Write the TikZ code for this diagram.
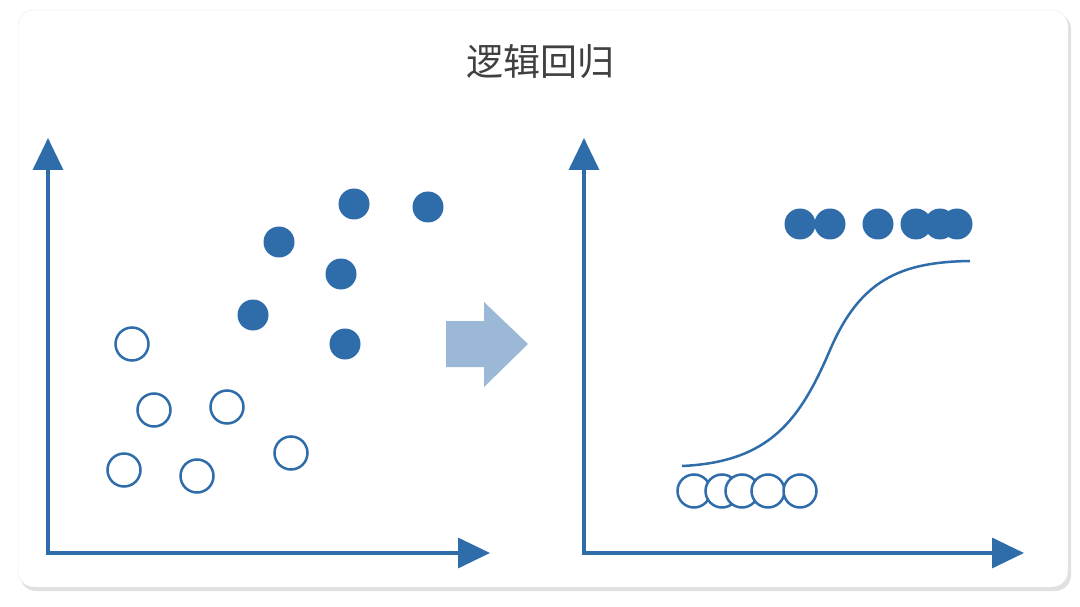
\documentclass[tikz,border=0pt]{standalone}
\usepackage{fontspec}
\newfontfamily\cjk{Noto Sans CJK SC}
\usetikzlibrary{arrows.meta,shadows}
\definecolor{ax}{HTML}{2F6CAA}
\definecolor{blk}{HTML}{9BB9D7}
\begin{document}
\begin{tikzpicture}[x=1pt,y=-1pt,
  axis/.style={ax,line width=3.5pt,-{Triangle[length=32pt,width=30pt]}},
  full/.style={circle,fill=ax,minimum size=31pt,inner sep=0pt},
  hollow/.style={circle,draw=ax,line width=2.5pt,fill=white,minimum size=33pt,inner sep=0pt}]
\useasboundingbox (0,0) rectangle (1080,607);
\fill[white] (0,0) rectangle (1080,607);
\fill[black!12,rounded corners=16pt] (20,13) rectangle (1071,591);
\fill[white,rounded corners=16pt,draw=black!8] (18,10) rectangle (1068,587);
\node[text=black!75,font=\cjk\fontsize{37pt}{44pt}\selectfont] (title) at (540,62) {逻辑回归};
% left axes
\coordinate (o1) at (48,553);
\coordinate (y1) at (48,138);
\coordinate (x1) at (490,553);
\draw[axis] ([yshift=2pt]o1) -- (y1);
\draw[axis] ([xshift=-2pt]o1) -- (x1);
% right axes
\coordinate (o2) at (584,553);
\coordinate (y2) at (584,138);
\coordinate (x2) at (1024,553);
\draw[axis] ([yshift=2pt]o2) -- (y2);
\draw[axis] ([xshift=-2pt]o2) -- (x2);
% left points
\foreach \n/\x/\y in {a/354/204,b/428/207,c/279/242,d/341/274,e/253/315,f/345/344}
  \node[full] (L\n) at (\x,\y) {};
\foreach \n/\x/\y in {a/132/344,b/154/410,c/227/407,d/124/470,e/197/476,f/291/453}
  \node[hollow] (H\n) at (\x,\y) {};
% block arrow
\fill[blk] (446,321) -- (484,321) -- (484,302) -- (528,344) -- (484,387) -- (484,367) -- (446,367) -- cycle;
% right points
\foreach \n/\x in {a/800,b/830,c/878,d/916,e/940,f/957}
  \node[full] (R\n) at (\x,224) {};
\foreach \n/\x in {a/694,b/722,c/742,d/768,e/800}
  \node[hollow] (S\n) at (\x,491) {};
% sigmoid
\draw[ax,line width=2.5pt] (682,466) .. controls (770,462) and (800,420) .. (830,350)
  .. controls (860,280) and (900,262) .. (970,261);
\end{tikzpicture}
\end{document}
